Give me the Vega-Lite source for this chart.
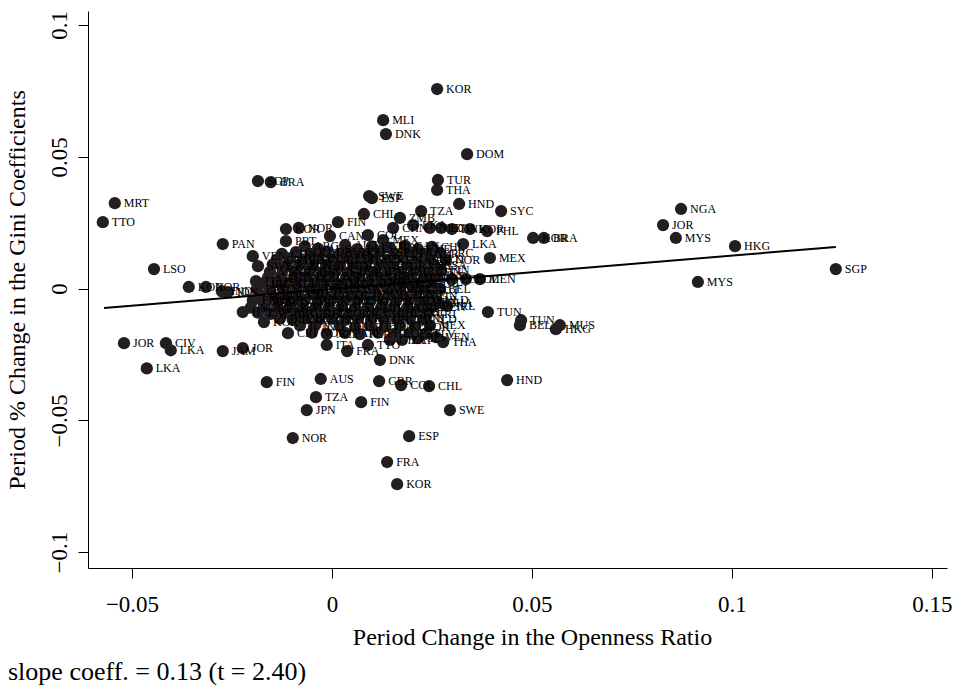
{
"$schema":"https://vega.github.io/schema/vega-lite/v6.json",
"width":859,"height":557,
"autosize":{"type":"none"},
"padding":{"left":88,"top":11,"right":7,"bottom":117},
"background":"white",
"title":{"text":"slope coeff. = 0.13 (t = 2.40)","orient":"bottom","anchor":"start","frame":"group","font":"Liberation Serif","fontSize":26,"fontWeight":"normal","color":"#000","dx":-80,"offset":10},
"config":{"view":{"stroke":null},"axis":{"grid":false,"domainColor":"#000","tickColor":"#000","labelColor":"#000","titleColor":"#000","labelFont":"Liberation Serif","titleFont":"Liberation Serif","labelFontSize":23,"titleFontSize":24,"titleFontWeight":"normal","tickSize":10,"domainWidth":1,"tickWidth":1}},
"datasets":{
"fit":[{"x":-0.0570,"y":-0.0074},{"x":0.1260,"y":0.0158}],
"pts":[
{"x":0.0263,"y":0.0757,"c":"KOR"},{"x":0.0128,"y":0.0639,"c":"MLI"},{"x":0.0135,"y":0.0586,"c":"DNK"},{"x":0.0338,"y":0.0510,"c":"DOM"},{"x":0.0265,"y":0.0412,"c":"TUR"},{"x":0.0263,"y":0.0374,"c":"THA"},{"x":0.0318,"y":0.0321,"c":"HND"},{"x":0.0423,"y":0.0294,"c":"SYC"},{"x":0.0873,"y":0.0302,"c":"NGA"},{"x":0.0828,"y":0.0241,"c":"JOR"},{"x":0.0860,"y":0.0192,"c":"MYS"},{"x":0.1008,"y":0.0161,"c":"HKG"},{"x":0.1260,"y":0.0074,"c":"SGP"},{"x":0.0915,"y":0.0025,"c":"MYS"},{"x":0.0503,"y":0.0192,"c":"KOR"},{"x":0.0530,"y":0.0192,"c":"BRA"},{"x":0.0328,"y":0.0169,"c":"LKA"},{"x":0.0395,"y":0.0116,"c":"MEX"},{"x":0.0388,"y":0.0218,"c":"PHL"},{"x":0.0223,"y":0.0294,"c":"TZA"},{"x":0.0080,"y":0.0283,"c":"CHL"},{"x":0.0093,"y":0.0351,"c":"SWE"},{"x":0.0100,"y":0.0343,"c":"ESP"},{"x":-0.0185,"y":0.0408,"c":"SGP"},{"x":-0.0153,"y":0.0404,"c":"BRA"},{"x":-0.0543,"y":0.0324,"c":"MRT"},{"x":-0.0573,"y":0.0252,"c":"TTO"},{"x":-0.0273,"y":0.0169,"c":"PAN"},{"x":-0.0198,"y":0.0123,"c":"VEN"},{"x":-0.0185,"y":0.0085,"c":"SWE"},{"x":-0.0445,"y":0.0074,"c":"LSO"},{"x":-0.0358,"y":0.0006,"c":"KOR"},{"x":-0.0315,"y":0.0006,"c":"NOR"},{"x":-0.0275,"y":-0.0011,"c":"IND"},{"x":-0.0260,"y":-0.0013,"c":"IDN"},{"x":-0.0463,"y":-0.0303,"c":"LKA"},{"x":-0.0520,"y":-0.0207,"c":"JOR"},{"x":-0.0415,"y":-0.0207,"c":"CIV"},{"x":-0.0403,"y":-0.0234,"c":"LKA"},{"x":-0.0273,"y":-0.0237,"c":"JAM"},{"x":-0.0223,"y":-0.0226,"c":"JOR"},{"x":-0.0170,"y":-0.0127,"c":"KOR"},{"x":-0.0110,"y":-0.0169,"c":"CRI"},{"x":-0.0163,"y":-0.0355,"c":"FIN"},{"x":-0.0028,"y":-0.0343,"c":"AUS"},{"x":-0.0040,"y":-0.0412,"c":"TZA"},{"x":-0.0063,"y":-0.0461,"c":"JPN"},{"x":-0.0098,"y":-0.0567,"c":"NOR"},{"x":0.0073,"y":-0.0431,"c":"FIN"},{"x":0.0118,"y":-0.0351,"c":"GBR"},{"x":0.0173,"y":-0.0366,"c":"COL"},{"x":0.0243,"y":-0.0370,"c":"CHL"},{"x":0.0438,"y":-0.0347,"c":"HND"},{"x":0.0295,"y":-0.0461,"c":"SWE"},{"x":0.0193,"y":-0.0560,"c":"ESP"},{"x":0.0138,"y":-0.0658,"c":"FRA"},{"x":0.0163,"y":-0.0742,"c":"KOR"},{"x":0.0120,"y":-0.0271,"c":"DNK"},{"x":0.0038,"y":-0.0237,"c":"FRA"},{"x":0.0090,"y":-0.0214,"c":"TTO"},{"x":0.0278,"y":-0.0203,"c":"THA"},{"x":0.0260,"y":-0.0184,"c":"VEN"},{"x":0.0390,"y":-0.0089,"c":"TUN"},{"x":0.0473,"y":-0.0120,"c":"TUN"},{"x":0.0470,"y":-0.0139,"c":"BEL"},{"x":0.0570,"y":-0.0139,"c":"MUS"},{"x":0.0560,"y":-0.0154,"c":"HKG"},{"x":0.0288,"y":-0.0066,"c":"IRL"},{"x":0.0265,"y":-0.0055,"c":"GHA"},{"x":-0.0115,"y":0.0226,"c":"KOR"},{"x":-0.0083,"y":0.0230,"c":"NOR"},{"x":0.0015,"y":0.0252,"c":"FIN"},{"x":-0.0115,"y":0.0180,"c":"PRT"},{"x":-0.0005,"y":0.0199,"c":"CAN"},{"x":0.0090,"y":0.0203,"c":"COL"},{"x":0.0128,"y":0.0184,"c":"MEX"},{"x":0.0153,"y":0.0230,"c":"CHN"},{"x":0.0170,"y":0.0268,"c":"ZMB"},{"x":0.0203,"y":0.0241,"c":"LKA"},{"x":0.0245,"y":0.0230,"c":"NLD"},{"x":0.0273,"y":0.0230,"c":"ECU"},{"x":0.0300,"y":0.0226,"c":"DNK"},{"x":0.0345,"y":0.0226,"c":"KOR"},{"x":0.0273,"y":0.0070,"c":"FIN"},{"x":0.0300,"y":0.0036,"c":"ECU"},{"x":0.0335,"y":0.0036,"c":"BOL"},{"x":0.0370,"y":0.0036,"c":"MEN"},
{"x":-0.0013,"y":-0.0214,"c":"ITA"},{"x":-0.0190,"y":0.0028,"c":"ITA"},{"x":-0.0175,"y":-0.0044,"c":"BOL"},{"x":-0.0223,"y":-0.0089,"c":"HTI"},{"x":0.0145,"y":-0.0195,"c":"GHA"},{"x":0.0175,"y":-0.0195,"c":"ZAF"},{"x":0.0215,"y":-0.0188,"c":"SLV"},
{"x":-0.0068,"y":0.0160,"c":"ARG"},{"x":-0.0035,"y":0.0152,"c":"AUS"},{"x":0.0033,"y":0.0165,"c":"AUT"},{"x":0.0063,"y":0.0150,"c":"BEL"},{"x":0.0100,"y":0.0160,"c":"BGD"},{"x":0.0145,"y":0.0155,"c":"BOL"},{"x":0.0183,"y":0.0162,"c":"CAN"},{"x":0.0215,"y":0.0150,"c":"CHE"},{"x":0.0250,"y":0.0158,"c":"CHL"},
{"x":-0.0125,"y":0.0132,"c":"CHN"},{"x":-0.0090,"y":0.0138,"c":"COL"},{"x":-0.0053,"y":0.0130,"c":"CRI"},{"x":-0.0013,"y":0.0140,"c":"DEU"},{"x":0.0020,"y":0.0133,"c":"DNK"},{"x":0.0050,"y":0.0137,"c":"ECU"},{"x":0.0083,"y":0.0128,"c":"EGY"},{"x":0.0120,"y":0.0140,"c":"ESP"},{"x":0.0158,"y":0.0131,"c":"FIN"},{"x":0.0195,"y":0.0138,"c":"FRA"},{"x":0.0233,"y":0.0130,"c":"GBR"},{"x":0.0270,"y":0.0136,"c":"GRC"},
{"x":-0.0138,"y":0.0110,"c":"GTM"},{"x":-0.0105,"y":0.0116,"c":"HUN"},{"x":-0.0073,"y":0.0108,"c":"IDN"},{"x":-0.0035,"y":0.0115,"c":"IND"},{"x":0.0003,"y":0.0109,"c":"IRL"},{"x":0.0038,"y":0.0117,"c":"ISR"},{"x":0.0070,"y":0.0107,"c":"ITA"},{"x":0.0105,"y":0.0114,"c":"JPN"},{"x":0.0140,"y":0.0110,"c":"KEN"},{"x":0.0175,"y":0.0118,"c":"KOR"},{"x":0.0210,"y":0.0106,"c":"MEX"},{"x":0.0245,"y":0.0113,"c":"NLD"},{"x":0.0285,"y":0.0109,"c":"NOR"},
{"x":-0.0148,"y":0.0092,"c":"NZL"},{"x":-0.0113,"y":0.0086,"c":"PAK"},{"x":-0.0080,"y":0.0093,"c":"PER"},{"x":-0.0048,"y":0.0085,"c":"PHL"},{"x":-0.0015,"y":0.0091,"c":"POL"},{"x":0.0020,"y":0.0087,"c":"PRT"},{"x":0.0053,"y":0.0094,"c":"SLV"},{"x":0.0085,"y":0.0084,"c":"SWE"},{"x":0.0120,"y":0.0090,"c":"THA"},{"x":0.0153,"y":0.0086,"c":"TUR"},{"x":0.0188,"y":0.0093,"c":"TWN"},{"x":0.0220,"y":0.0087,"c":"URY"},{"x":0.0255,"y":0.0091,"c":"USA"},
{"x":-0.0155,"y":0.0064,"c":"VEN"},{"x":-0.0123,"y":0.0070,"c":"ZAF"},{"x":-0.0090,"y":0.0062,"c":"ZMB"},{"x":-0.0055,"y":0.0068,"c":"ARG"},{"x":-0.0023,"y":0.0063,"c":"AUS"},{"x":0.0010,"y":0.0069,"c":"AUT"},{"x":0.0043,"y":0.0062,"c":"BEL"},{"x":0.0075,"y":0.0068,"c":"BGD"},{"x":0.0108,"y":0.0064,"c":"BOL"},{"x":0.0140,"y":0.0070,"c":"CAN"},{"x":0.0173,"y":0.0063,"c":"CHE"},{"x":0.0205,"y":0.0067,"c":"CHL"},{"x":0.0238,"y":0.0062,"c":"CHN"},
{"x":-0.0160,"y":0.0042,"c":"CRI"},{"x":-0.0128,"y":0.0047,"c":"DEU"},{"x":-0.0095,"y":0.0040,"c":"DNK"},{"x":-0.0063,"y":0.0046,"c":"ECU"},{"x":-0.0030,"y":0.0041,"c":"EGY"},{"x":0.0003,"y":0.0048,"c":"ESP"},{"x":0.0035,"y":0.0040,"c":"FIN"},{"x":0.0068,"y":0.0046,"c":"FRA"},{"x":0.0100,"y":0.0042,"c":"GBR"},{"x":0.0133,"y":0.0047,"c":"GRC"},{"x":0.0165,"y":0.0041,"c":"GTM"},{"x":0.0198,"y":0.0045,"c":"HUN"},{"x":0.0230,"y":0.0040,"c":"IDN"},{"x":0.0263,"y":0.0046,"c":"IND"},
{"x":-0.0175,"y":0.0019,"c":"IRL"},{"x":-0.0143,"y":0.0024,"c":"ISR"},{"x":-0.0110,"y":0.0018,"c":"ITA"},{"x":-0.0078,"y":0.0023,"c":"JPN"},{"x":-0.0045,"y":0.0019,"c":"KEN"},{"x":-0.0013,"y":0.0025,"c":"KOR"},{"x":0.0020,"y":0.0017,"c":"MEX"},{"x":0.0053,"y":0.0023,"c":"NLD"},{"x":0.0085,"y":0.0020,"c":"NOR"},{"x":0.0118,"y":0.0024,"c":"NZL"},{"x":0.0150,"y":0.0018,"c":"PAK"},{"x":0.0183,"y":0.0022,"c":"PER"},{"x":0.0215,"y":0.0019,"c":"PHL"},{"x":0.0248,"y":0.0024,"c":"POL"},
{"x":-0.0188,"y":-0.0001,"c":"PRT"},{"x":-0.0155,"y":-0.0005,"c":"SLV"},{"x":-0.0123,"y":0.0002,"c":"SWE"},{"x":-0.0090,"y":-0.0004,"c":"THA"},{"x":-0.0058,"y":0.0001,"c":"TUR"},{"x":-0.0025,"y":-0.0005,"c":"TWN"},{"x":0.0008,"y":0.0002,"c":"URY"},{"x":0.0040,"y":-0.0003,"c":"USA"},{"x":0.0073,"y":0.0001,"c":"VEN"},{"x":0.0105,"y":-0.0004,"c":"ZAF"},{"x":0.0138,"y":0.0002,"c":"ZMB"},{"x":0.0170,"y":-0.0002,"c":"ARG"},{"x":0.0203,"y":0.0001,"c":"AUS"},{"x":0.0235,"y":-0.0005,"c":"AUT"},{"x":0.0268,"y":0.0000,"c":"BEL"},
{"x":-0.0180,"y":-0.0023,"c":"BGD"},{"x":-0.0148,"y":-0.0028,"c":"BOL"},{"x":-0.0115,"y":-0.0022,"c":"CAN"},{"x":-0.0083,"y":-0.0027,"c":"CHE"},{"x":-0.0050,"y":-0.0021,"c":"CHL"},{"x":-0.0018,"y":-0.0028,"c":"CHN"},{"x":0.0015,"y":-0.0023,"c":"COL"},{"x":0.0048,"y":-0.0027,"c":"CRI"},{"x":0.0080,"y":-0.0022,"c":"DEU"},{"x":0.0113,"y":-0.0028,"c":"DNK"},{"x":0.0145,"y":-0.0024,"c":"ECU"},{"x":0.0178,"y":-0.0026,"c":"EGY"},{"x":0.0210,"y":-0.0021,"c":"ESP"},{"x":0.0243,"y":-0.0027,"c":"FIN"},
{"x":-0.0198,"y":-0.0045,"c":"FRA"},{"x":-0.0165,"y":-0.0050,"c":"GBR"},{"x":-0.0133,"y":-0.0044,"c":"GRC"},{"x":-0.0100,"y":-0.0049,"c":"GTM"},{"x":-0.0068,"y":-0.0044,"c":"HUN"},{"x":-0.0035,"y":-0.0051,"c":"IDN"},{"x":-0.0003,"y":-0.0045,"c":"IND"},{"x":0.0030,"y":-0.0049,"c":"IRL"},{"x":0.0063,"y":-0.0043,"c":"ISR"},{"x":0.0095,"y":-0.0050,"c":"ITA"},{"x":0.0128,"y":-0.0046,"c":"JPN"},{"x":0.0160,"y":-0.0048,"c":"KEN"},{"x":0.0193,"y":-0.0044,"c":"KOR"},{"x":0.0225,"y":-0.0050,"c":"MEX"},{"x":0.0258,"y":-0.0045,"c":"NLD"},
{"x":-0.0203,"y":-0.0072,"c":"NOR"},{"x":-0.0170,"y":-0.0067,"c":"NZL"},{"x":-0.0138,"y":-0.0073,"c":"PAK"},{"x":-0.0105,"y":-0.0068,"c":"PER"},{"x":-0.0073,"y":-0.0074,"c":"PHL"},{"x":-0.0040,"y":-0.0067,"c":"POL"},{"x":-0.0008,"y":-0.0072,"c":"PRT"},{"x":0.0025,"y":-0.0068,"c":"SLV"},{"x":0.0058,"y":-0.0073,"c":"SWE"},{"x":0.0090,"y":-0.0067,"c":"THA"},{"x":0.0123,"y":-0.0072,"c":"TUR"},{"x":0.0155,"y":-0.0069,"c":"TWN"},{"x":0.0188,"y":-0.0073,"c":"URY"},{"x":0.0220,"y":-0.0068,"c":"USA"},{"x":0.0250,"y":-0.0071,"c":"VEN"},
{"x":-0.0185,"y":-0.0091,"c":"ZAF"},{"x":-0.0153,"y":-0.0096,"c":"ZMB"},{"x":-0.0120,"y":-0.0090,"c":"ARG"},{"x":-0.0088,"y":-0.0095,"c":"AUS"},{"x":-0.0055,"y":-0.0091,"c":"AUT"},{"x":-0.0023,"y":-0.0097,"c":"BEL"},{"x":0.0010,"y":-0.0092,"c":"BGD"},{"x":0.0043,"y":-0.0096,"c":"BOL"},{"x":0.0075,"y":-0.0090,"c":"CAN"},{"x":0.0108,"y":-0.0095,"c":"CHE"},{"x":0.0140,"y":-0.0091,"c":"CHL"},{"x":0.0173,"y":-0.0094,"c":"CHN"},{"x":0.0205,"y":-0.0090,"c":"COL"},{"x":0.0238,"y":-0.0096,"c":"CRI"},
{"x":-0.0130,"y":-0.0114,"c":"DEU"},{"x":-0.0098,"y":-0.0119,"c":"DNK"},{"x":-0.0065,"y":-0.0113,"c":"ECU"},{"x":-0.0033,"y":-0.0118,"c":"EGY"},{"x":0.0000,"y":-0.0114,"c":"ESP"},{"x":0.0033,"y":-0.0119,"c":"FIN"},{"x":0.0065,"y":-0.0113,"c":"FRA"},{"x":0.0098,"y":-0.0118,"c":"GBR"},{"x":0.0130,"y":-0.0115,"c":"GRC"},{"x":0.0163,"y":-0.0118,"c":"GTM"},{"x":0.0195,"y":-0.0113,"c":"HUN"},{"x":0.0228,"y":-0.0117,"c":"NLD"},
{"x":-0.0080,"y":-0.0140,"c":"IDN"},{"x":-0.0045,"y":-0.0145,"c":"IND"},{"x":0.0020,"y":-0.0141,"c":"IRL"},{"x":0.0058,"y":-0.0146,"c":"ISR"},{"x":0.0095,"y":-0.0140,"c":"ITA"},{"x":0.0133,"y":-0.0144,"c":"JPN"},{"x":0.0170,"y":-0.0141,"c":"KEN"},{"x":0.0208,"y":-0.0145,"c":"KOR"},{"x":0.0245,"y":-0.0140,"c":"MEX"},
{"x":-0.0050,"y":-0.0167,"c":"NOR"},{"x":-0.0013,"y":-0.0172,"c":"NZL"},{"x":0.0033,"y":-0.0168,"c":"PAK"},{"x":0.0070,"y":-0.0173,"c":"PER"},{"x":0.0115,"y":-0.0167,"c":"PHL"},{"x":0.0158,"y":-0.0171,"c":"POL"},{"x":0.0195,"y":-0.0168,"c":"PRT"},{"x":0.0233,"y":-0.0172,"c":"SLV"}
]},
"layer":[
{"data":{"name":"pts"},"mark":{"type":"circle","size":150,"color":"#231f20","opacity":1},
"encoding":{
"x":{"field":"x","type":"quantitative","scale":{"domain":[-0.061,0.1538],"nice":false,"zero":false},"axis":{"values":[-0.05,0,0.05,0.1,0.15],"format":"~g","title":"Period Change in the Openness Ratio","labelPadding":15,"titlePadding":9,"titleX":444}},
"y":{"field":"y","type":"quantitative","scale":{"domain":[-0.106,0.1053],"nice":false,"zero":false},"axis":{"values":[-0.1,-0.05,0,0.05,0.1],"format":"~g","title":"Period % Change in the Gini Coefficients","labelAngle":-90,"labelAlign":"center","labelBaseline":"bottom","labelPadding":7,"titlePadding":19}}}},
{"data":{"name":"pts"},"mark":{"type":"text","align":"left","baseline":"middle","dx":9,"font":"Liberation Serif","fontSize":12,"color":"#000"},
"encoding":{"x":{"field":"x","type":"quantitative"},"y":{"field":"y","type":"quantitative"},"text":{"field":"c"}}},
{"data":{"name":"fit"},"mark":{"type":"line","color":"#000","strokeWidth":2},
"encoding":{"x":{"field":"x","type":"quantitative"},"y":{"field":"y","type":"quantitative"}}}
]
}
